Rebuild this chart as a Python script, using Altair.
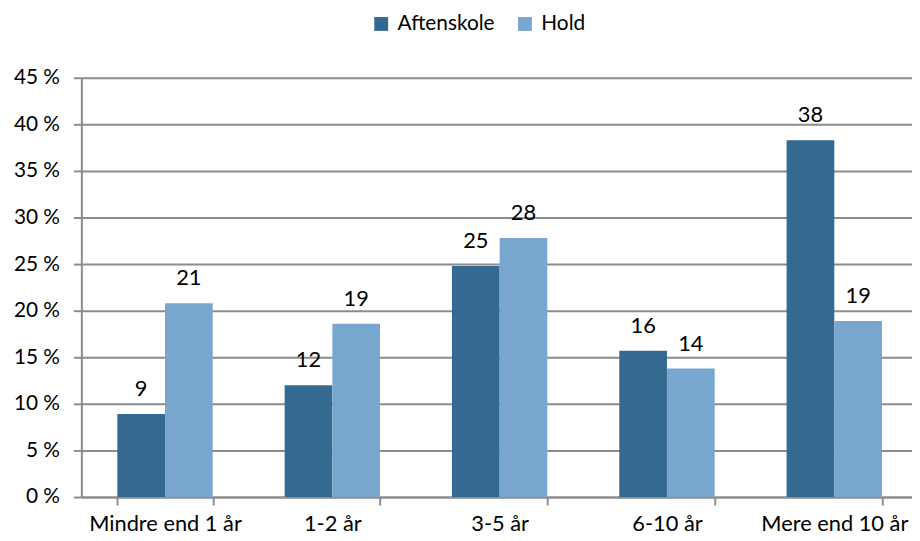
import altair as alt
import pandas as pd

categories = ["Mindre end 1 år", "1-2 år", "3-5 år", "6-10 år", "Mere end 10 år"]
series = ["Aftenskole", "Hold"]
aftenskole = [8.9, 12.0, 24.8, 15.7, 38.3]
hold = [20.8, 18.6, 27.8, 13.8, 18.9]
y_ticks = [0, 5, 10, 15, 20, 25, 30, 35, 40, 45]
colors = ["#346A91", "#78A6CF"]

rows = []
for c, a, h in zip(categories, aftenskole, hold):
    rows.append({"cat": c, "serie": "Aftenskole", "val": a})
    rows.append({"cat": c, "serie": "Hold", "val": h})
df = pd.DataFrame(rows)

FONT = "Lato"
GRAY = "#8C8C8C"

x = alt.X("cat:N", sort=categories, title=None,
          scale=alt.Scale(paddingInner=0.43, paddingOuter=0.215, range=[0, 844]),
          axis=alt.Axis(tickBand="extent", labelAngle=0, domainColor=GRAY, domainWidth=2,
                        tickColor=GRAY, tickWidth=2, tickSize=8, labelPadding=9,
                        labelFontSize=22, labelFont=FONT, labelColor="#000000", grid=False))
xo = alt.XOffset("serie:N", sort=series, scale=alt.Scale(paddingInner=0, paddingOuter=0))

base = alt.Chart(df)

bars = base.mark_bar().encode(
    x=x,
    xOffset=xo,
    y=alt.Y("val:Q", title=None,
            scale=alt.Scale(domain=[0, 45], nice=False),
            axis=alt.Axis(values=y_ticks, labelExpr="datum.value + ' %'",
                          domainColor=GRAY, domainWidth=2, tickColor=GRAY, tickWidth=2,
                          tickSize=8, gridColor=GRAY, gridWidth=2, labelPadding=14,
                          labelFontSize=21, labelFont=FONT, labelColor="#000000")),
    color=alt.Color("serie:N", sort=series, scale=alt.Scale(domain=series, range=colors),
                    legend=alt.Legend(title=None, orient="none", direction="horizontal",
                                      legendX=292, legendY=-65, symbolType="square",
                                      symbolSize=196, symbolStrokeWidth=0,
                                      labelFontSize=21, labelFont=FONT, labelColor="#000000",
                                      labelOffset=6, columnPadding=20)),
)

labels = base.mark_text(baseline="alphabetic", dy=-18, fontSize=22, font=FONT, color="#000000").encode(
    x=alt.X("cat:N", sort=categories),
    xOffset=xo,
    y=alt.Y("val:Q"),
    text=alt.Text("val:Q", format=".0f"),
)

chart = alt.layer(bars, labels).properties(
    width=838, height=423,
    autosize=alt.AutoSizeParams(type="none"),
    padding={"left": 74, "top": 68, "right": 0, "bottom": 42},
).configure_view(stroke=None).configure(background="#FFFFFF")

chart.save("out.html", embed_options={"renderer": "svg", "actions": False})
